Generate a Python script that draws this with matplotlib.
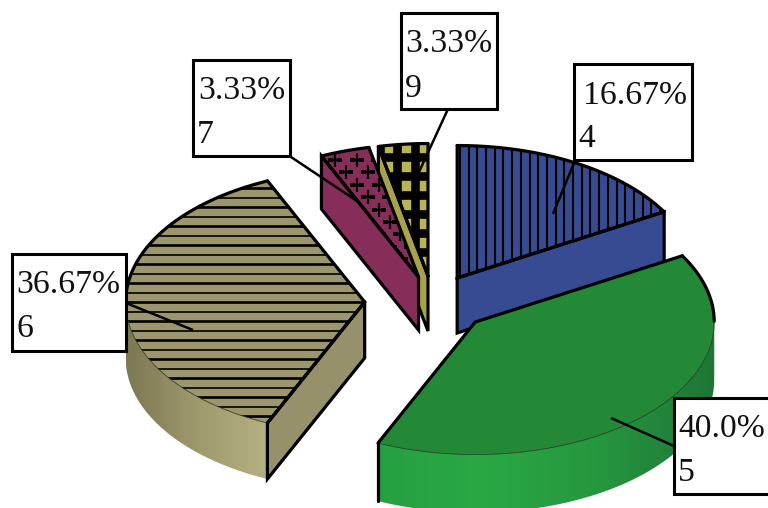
import numpy as np
import matplotlib
matplotlib.use("Agg")
import matplotlib.pyplot as plt
from matplotlib.patches import Polygon, Rectangle
from matplotlib.collections import LineCollection

# ---- data ----
percent = [16.67, 40.0, 36.67, 3.33, 3.33]
percent_labels = ["16.67%", "40.0%", "36.67%", "3.33%", "3.33%"]
categories = ["4", "5", "6", "7", "9"]

# ---- style / layout ----
top_colors = ["#364B92", "#238937", "#9B966E", "#872D5A", "#B9B455"]
face_colors = ["#364B92", "#238937", "#96916A", "#872D5A", "#A8A34B"]
explode_x = [0.244, 0.266, 0.265, 0.128, 0.0]
explode_y = [0.209, 0.226, 0.0, 0.198, 0.197]
depths = [55, 58, 56, 53, 55]
wall_x = [None, [377, 480, 600, 714], [127, 200, 268], None, None]
wall_rgb = [None,
            [(38, 160, 65), (42, 168, 68), (38, 150, 62), (30, 118, 55)],
            [(125, 120, 85), (160, 155, 110), (182, 177, 130)],
            None, None]
CX, CY, RX, RY = 428, 302, 239, 132.5
DRAW_ORDER = [2, 4, 3, 0, 1]
THICK = 2.3
boxes = [(574, 64, 692, 160), (674, 398, 773, 494), (12, 254, 126, 351),
         (193, 60, 290, 156), (401, 13, 497, 109)]
text_pos = [((583, 104), (578, 147)), ((678, 437), (678, 481)), ((16, 293), (16, 337)),
            ((198, 99), (197, 143)), ((405, 52), (405, 97))]
leaders = [((574, 163), (553, 214)), ((674, 446), (611, 418)), ((126, 303), (193, 330)),
           ((291, 157), (360, 203)), ((448, 109), (419, 172))]
SERIF = "Liberation Serif"

fig = plt.figure(figsize=(7.68, 5.08), dpi=100)
ax = fig.add_axes([0, 0, 1, 1])
ax.set_axis_off()
ax.set_xlim(0, 768)
ax.set_ylim(508, 0)

edges = np.concatenate([[0], np.cumsum(percent)]) * 360.0 / sum(percent)


def rim(x0, y0, a0, a1, n=80):
    t = np.radians(np.linspace(a0, a1, n))
    return np.column_stack([x0 + RX * np.sin(t), y0 - RY * np.cos(t)])


def line(xy, lw=THICK, z=3):
    xy = np.asarray(xy)
    ax.plot(xy[:, 0], xy[:, 1], color="black", lw=lw, zorder=z,
            solid_capstyle="round", solid_joinstyle="miter")


def hatch(i, clip):
    x0, x1 = 0, 768
    y0, y1 = 0, 508
    if i == 0:
        xs = np.arange(460, 670, 8.7)
        segs = [[(x, y0), (x, y1)] for x in xs]
        lc = LineCollection(segs, colors="black", linewidths=1.5, zorder=2)
        ax.add_collection(lc)
        lc.set_clip_path(clip)
    elif i == 2:
        ys = np.arange(188.3, 425, 9.5)
        segs = [[(x0, y), (x1, y)] for y in ys]
        widths = [1.9 if k % 2 == 0 else 1.2 for k in range(len(ys))]
        lc = LineCollection(segs, colors="black", linewidths=widths, zorder=2)
        ax.add_collection(lc)
        lc.set_clip_path(clip)
    elif i == 3:
        px, py = [], []
        for r in range(0, 11):
            for c in range(-6, 6):
                px.append(335 + c * 21.7 + r * 10.9)
                py.append(160 + r * 12.4)
        m, = ax.plot(px, py, ls="none", marker="+", ms=9.5, mew=1.6, color="black", zorder=2)
        m.set_clip_path(clip)
    elif i == 4:
        segs = [[(x, y0), (x, y1)] for x in np.arange(380, 440, 17.3)]
        segs += [[(x0, y), (x1, y)] for y in np.arange(156.5, 290, 19)]
        lc = LineCollection(segs, colors="black", linewidths=6.2, zorder=2)
        ax.add_collection(lc)
        lc.set_clip_path(clip)


for i in DRAW_ORDER:
    a0, a1 = edges[i], edges[i + 1]
    mid = np.radians((a0 + a1) / 2)
    x0 = CX + explode_x[i] * RX * np.sin(mid)
    y0 = CY - explode_y[i] * RY * np.cos(mid)
    d = depths[i]
    base = 10 + DRAW_ORDER.index(i) * 10

    # outer wall, only where the rim faces the viewer
    w0, w1 = max(a0, 90), min(a1, 270)
    if w1 > w0:
        r = rim(x0, y0, w0, w1)
        poly = np.vstack([r, r[::-1] + [0, d]])
        clip = Polygon(poly, closed=True, transform=ax.transData, fc="none", ec="none")
        ax.add_patch(clip)
        xs = np.linspace(r[:, 0].min(), r[:, 0].max(), 200)
        grad = np.stack([np.interp(xs, wall_x[i], [c[k] for c in wall_rgb[i]]) for k in range(3)], axis=-1)
        im = ax.imshow(grad[None, :, :] / 255, extent=(xs[0], xs[-1], 520, 100), aspect="auto",
                       zorder=base, interpolation="bilinear")
        im.set_clip_path(clip)

    # straight cut faces that face the viewer
    face_outline = []
    for ang, visible in ((a0, 180 < a0 < 360), (a1, 0 < a1 < 180)):
        if visible:
            p = rim(x0, y0, ang, ang, 1)[0]
            q = np.array([x0, y0])
            quad = np.array([q, p, p + [0, d], q + [0, d]])
            ax.add_patch(Polygon(quad, closed=True, fc=face_colors[i], ec="none", zorder=base + 1))
            face_outline.append(np.vstack([quad, quad[0]]))

    # top surface
    arc = rim(x0, y0, a0, a1)
    top = np.vstack([[x0, y0], arc])
    top_patch = Polygon(top, closed=True, fc=top_colors[i], ec="none", zorder=base + 2)
    ax.add_patch(top_patch)

    # pattern
    clip_p = Polygon(top, closed=True, transform=ax.transData, fc="none", ec="none")
    ax.add_patch(clip_p)
    before = set(ax.get_children())
    hatch(i, clip_p)
    for art in set(ax.get_children()) - before:
        art.set_zorder(base + 3)

    # outlines
    for q in face_outline:
        line(q, z=base + 4)
    line([arc[0], [x0, y0], arc[-1]], z=base + 5)
    angs = np.linspace(a0, a1, 200)
    front = (angs > 90) & (angs < 270)
    if (~front).any():
        ps = rim(x0, y0, a0, a1, 200)
        idx = np.where(~front)[0]
        splits = np.split(idx, np.where(np.diff(idx) > 1)[0] + 1)
        for s in splits:
            line(ps[s], z=base + 5)
    if front.any():
        ps = rim(x0, y0, a0, a1, 200)
        ax.plot(ps[front, 0], ps[front, 1], color="#1c2a14", lw=0.5, zorder=base + 5)
    if 90 < a1 < 270:
        p = rim(x0, y0, a1, a1, 1)[0]
        line([p, p + [0, d]], z=base + 5)

# callouts
for i in range(len(percent)):
    (a, b) = leaders[i]
    ax.plot([a[0], b[0]], [a[1], b[1]], color="black", lw=1.8, zorder=80, solid_capstyle="butt")
    l, t, r_, btm = boxes[i]
    ax.add_patch(Rectangle((l, t), r_ - l, btm - t, fc="white", ec="black", lw=2.2, zorder=90,
                           joinstyle="miter"))
    (p1, p2) = text_pos[i]
    ax.text(p1[0], p1[1], percent_labels[i], family=SERIF, fontsize=24.2, color="#111111",
            ha="left", va="baseline", zorder=95)
    ax.text(p2[0], p2[1], categories[i], family=SERIF, fontsize=24.2, color="#111111",
            ha="left", va="baseline", zorder=95)

ax.set_xlim(0, 768)
ax.set_ylim(508, 0)
fig.savefig("out.png", dpi=100, facecolor="white")
